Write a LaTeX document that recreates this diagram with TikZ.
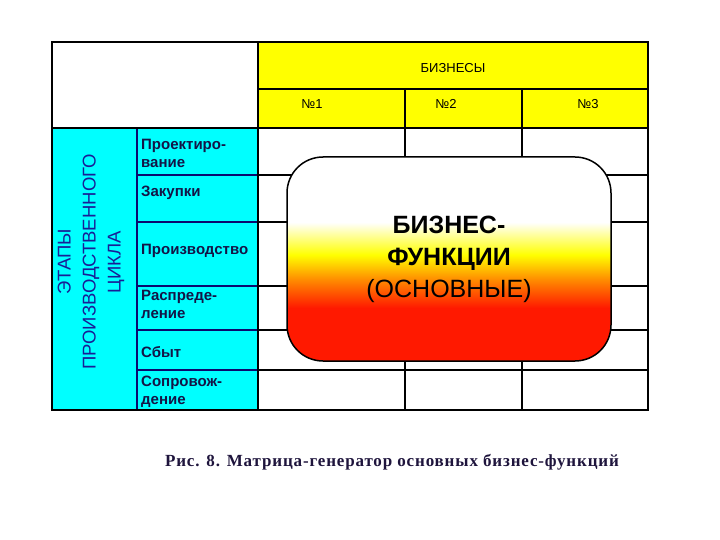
\documentclass[tikz,border=0pt]{standalone}
\usepackage{fontspec}
\setmainfont{Liberation Sans}
\newfontfamily\capfont[LetterSpace=5]{Liberation Serif}
\usepackage{tikz}
\usetikzlibrary{positioning}
\definecolor{bizyellow}{RGB}{255,255,0}
\definecolor{stagecyan}{RGB}{0,255,255}
\definecolor{stagenavy}{RGB}{10,10,110}
\definecolor{stageblue}{RGB}{25,30,150}
\definecolor{labelnavy}{RGB}{20,20,70}
\definecolor{capnavy}{RGB}{30,20,60}
\definecolor{funcred}{RGB}{255,25,0}
\definecolor{funcorange}{RGB}{255,140,0}
\definecolor{funcyellow}{RGB}{255,255,0}
\pgfdeclareverticalshading{funcshade}{100bp}{color(0bp)=(funcred); color(38bp)=(funcred); color(45bp)=(funcorange); color(51bp)=(funcyellow); color(59bp)=(white); color(100bp)=(white)}
\newcommand{\rowline}[1]{\draw[stagenavy,line width=1.5pt] (137,#1) -- (258,#1);
  \draw[line width=1.5pt] (258,#1) -- (648,#1);}

\begin{document}
\begin{tikzpicture}[x=1pt,y=-1pt,
  stagelabel/.style={font=\bfseries\fontsize{15}{18}\selectfont,text=labelnavy,align=left,anchor=west,inner sep=0pt},
  colhead/.style={font=\fontsize{13}{13}\selectfont,inner sep=0pt}]
\useasboundingbox (0,0) rectangle (720,540);
\fill[bizyellow] (258,42) rectangle (648,128);
\fill[stagecyan] (52,128) rectangle (258,410);
\foreach \y in {175,222,286,330,370}{
  \rowline{\y}
}
\foreach \x in {405,522}{
  \draw[line width=1.5pt] (\x,89) -- (\x,410);
}
\draw[line width=1.2pt] (258,89) -- (648,89);
\draw[stagenavy,line width=1.5pt] (137,128) -- (137,410);
\draw[line width=2.5pt] (258,42) -- (258,410);
\draw[line width=2.5pt] (52,128) -- (648,128);
\draw[line width=2.5pt] (52,42) rectangle (648,410);
\node[colhead] (biz) at (453,68) {БИЗНЕСЫ};
\foreach \n/\x in {1/312,2/446,3/588}{
  \node[colhead] (biz\n) at (\x,104) {№\n};
}
\node[rotate=90,align=center,inner sep=0pt,text=stageblue,
  font=\fontsize{18.5}{25}\selectfont] (stages) at (91,262) {ЭТАПЫ\\ПРОИЗВОДСТВЕННОГО\\ЦИКЛА};
\foreach \t/\y [count=\i] in {{Проектиро-\\вание}/153,Закупки/193,Производство/251,
  {Распреде-\\ление}/304,Сбыт/352,{Сопровож-\\дение}/392}{
  \node[stagelabel] (stage\i) at (141,\y) {\t};
}
\node[shade,shading=funcshade,draw=black,line width=1.5pt,rounded corners=36pt,
  minimum width=324pt,minimum height=204pt,align=center,
  font=\fontsize{25}{32}\selectfont] (funcs) at (449,259)
  {\textbf{БИЗНЕС-}\\\textbf{ФУНКЦИИ}\\(ОСНОВНЫЕ)};
\node[font=\capfont\bfseries\fontsize{17}{17}\selectfont,text=capnavy] (caption) at (392,462)
  {Рис. 8. Матрица-генератор основных бизнес-функций};
\end{tikzpicture}
\end{document}
